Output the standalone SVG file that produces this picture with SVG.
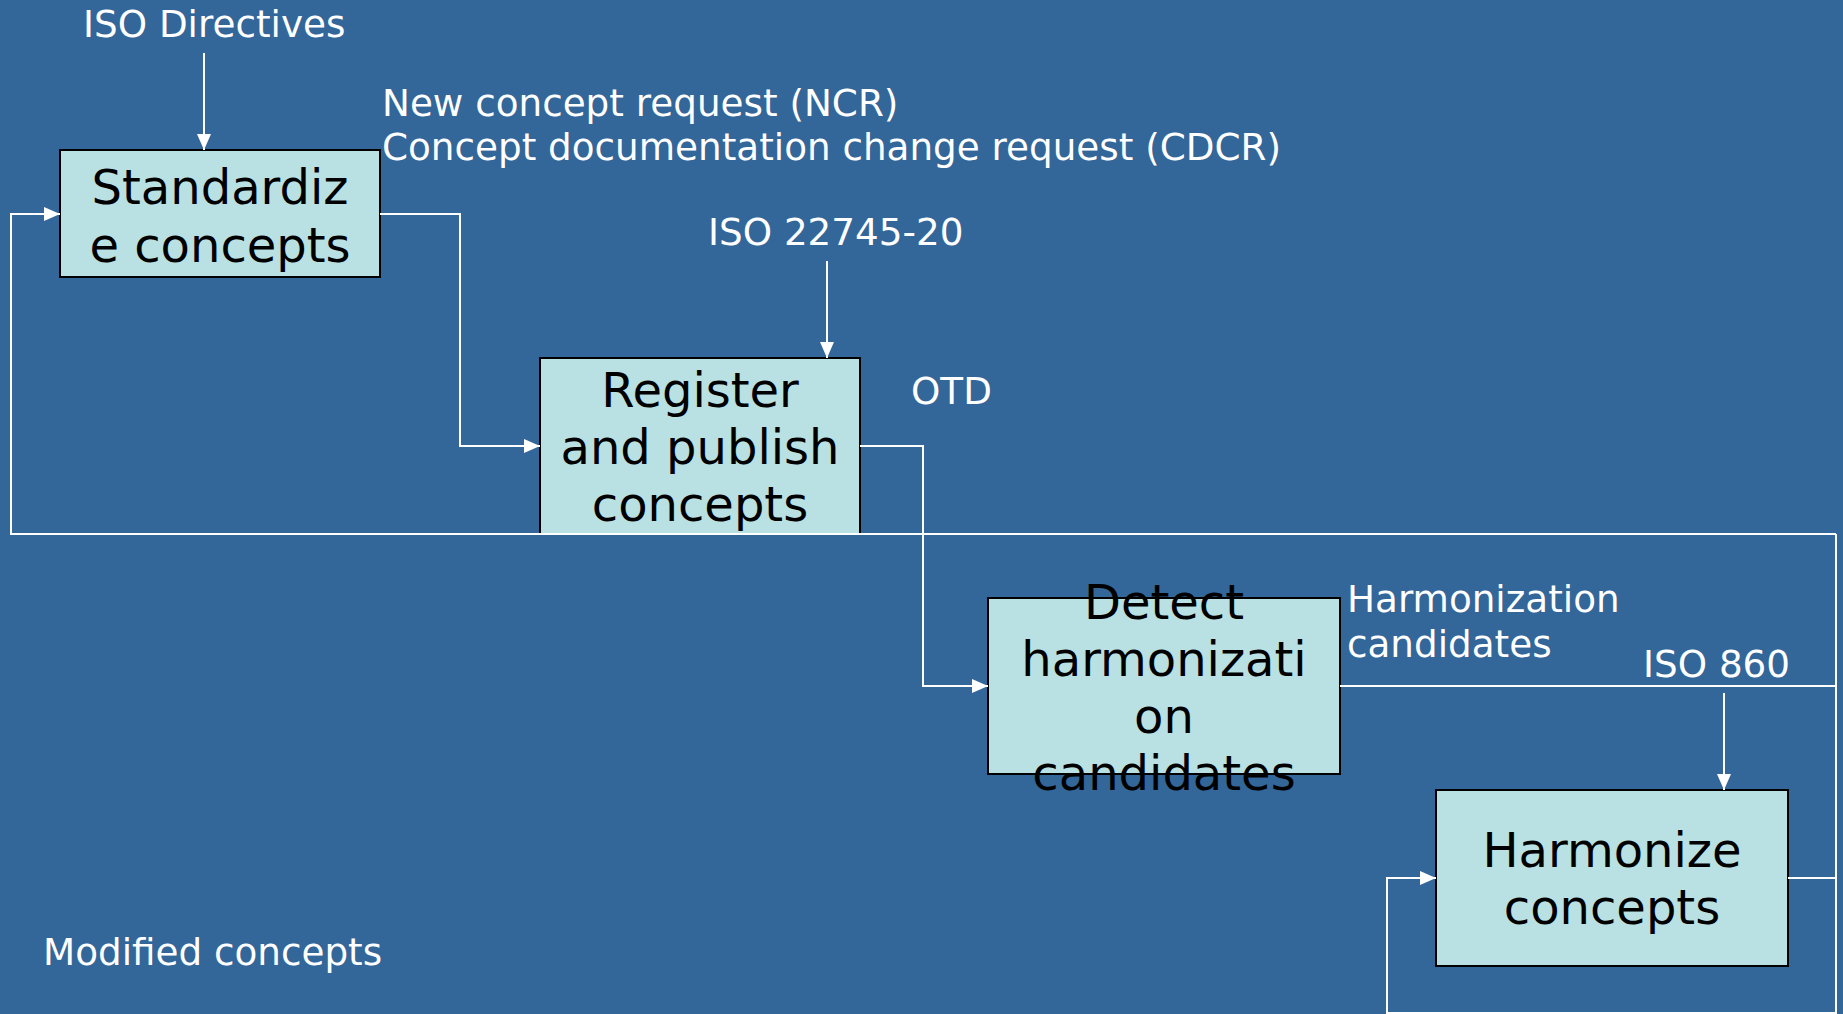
<svg xmlns="http://www.w3.org/2000/svg" width="1843" height="1014" viewBox="0 0 1843 1014">
<style>
.box{fill:#B9E0E3;stroke:#000;stroke-width:2}
.bt{font-family:"DejaVu Sans",sans-serif;font-size:48px;fill:#000;text-anchor:middle}
.lb{font-family:"DejaVu Sans",sans-serif;font-size:37.3px;fill:#fff}
.cn{fill:none;stroke:#fff;stroke-width:2}
</style>
<defs>
<marker id="ah" markerUnits="userSpaceOnUse" markerWidth="16" markerHeight="14" refX="16" refY="7" orient="auto">
<path d="M0,0 L16,7 L0,14 z" fill="#fff"/>
</marker>
</defs>
<rect width="1843" height="1014" fill="#336699"/>
<g id="labels">
<text class="lb" x="83" y="37">ISO Directives</text>
<text class="lb" x="382" y="116">New concept request (NCR)</text>
<text class="lb" x="382" y="160">Concept documentation change request (CDCR)</text>
<text class="lb" x="708" y="245">ISO 22745-20</text>
<text class="lb" x="911" y="404">OTD</text>
<text class="lb" x="1347" y="612">Harmonization</text>
<text class="lb" x="1347" y="657">candidates</text>
<text class="lb" x="1643" y="677">ISO 860</text>
<text class="lb" x="43" y="965">Modified concepts</text>
</g>
<g id="node-standardize">
<rect class="box" x="60" y="150" width="320" height="127"/>
<text class="bt" x="220" y="204">Standardiz</text>
<text class="bt" x="220" y="262">e concepts</text>
</g>
<g id="node-register">
<rect class="box" x="540" y="358" width="320" height="176"/>
<text class="bt" x="700" y="407">Register</text>
<text class="bt" x="700" y="464">and publish</text>
<text class="bt" x="700" y="521">concepts</text>
</g>
<g id="node-detect">
<rect class="box" x="988" y="598" width="352" height="176"/>
<text class="bt" x="1164" y="619">Detect</text>
<text class="bt" x="1164" y="676">harmonizati</text>
<text class="bt" x="1164" y="733">on</text>
<text class="bt" x="1164" y="790">candidates</text>
</g>
<g id="node-harmonize">
<rect class="box" x="1436" y="790" width="352" height="176"/>
<text class="bt" x="1612" y="867">Harmonize</text>
<text class="bt" x="1612" y="924">concepts</text>
</g>
<g id="connectors">
<path class="cn" d="M204,53 V150" marker-end="url(#ah)"/>
<path class="cn" d="M380,214 H460 V446 H540" marker-end="url(#ah)"/>
<path class="cn" d="M827,261 V358" marker-end="url(#ah)"/>
<path class="cn" d="M860,446 H923 V686 H988" marker-end="url(#ah)"/>
<path class="cn" d="M1724,693 V790" marker-end="url(#ah)"/>
<path class="cn" d="M1340,686 H1836"/>
<path class="cn" d="M1788,878 H1836"/>
<path class="cn" d="M1836,534 V1013 H1387 V878 H1436" marker-end="url(#ah)"/>
<path class="cn" d="M1836,534 H11 V214 H60" marker-end="url(#ah)"/>
</g>
</svg>
